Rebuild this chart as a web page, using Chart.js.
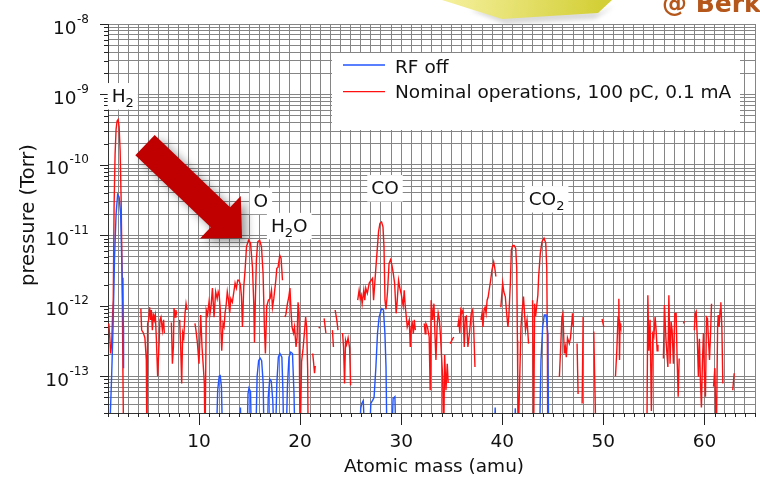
<!DOCTYPE html>
<html>
<head>
<meta charset="utf-8">
<script src="https://cdn.jsdelivr.net/npm/chart.js@4.4.1/dist/chart.umd.min.js"></script>
<style>
  html, body { margin: 0; padding: 0; background: #fff; }
  #wrap { width: 760px; height: 477px; position: relative; }
</style>
</head>
<body>
<div id="wrap"><canvas id="c" width="760" height="477"></canvas></div>
<script>
// Residual gas analyser spectrum: partial pressure against atomic mass
const massRange = [1, 65];
const pressureRange = [3e-14, 1e-8];
const massTickLabels = [10, 20, 30, 40, 50, 60];
const pressureDecades = [1e-8, 1e-9, 1e-10, 1e-11, 1e-12, 1e-13];
const BELOW = 1e-14;   // reading under the bottom of the scale

const seriesNames = ['RF off', 'Nominal operations, 100 pC, 0.1 mA'];
const seriesColors = ['#2255ff', '#ff1010'];

// [amu, Torr]; a null pressure breaks the trace
const rfOff = [
  [1.12,BELOW],[1.36,1.0e-13],[1.5,5.0e-13],[1.65,5.0e-12],[1.8,2.0e-11],[1.95,3.8e-11],[2.1,3.5e-11],
  [2.25,2.0e-11],[2.35,5.0e-12],[2.45,1.26e-12],[2.52,5.0e-13],[2.54,1.3e-13],[2.6,null],
  [11.7,BELOW],[11.85,6.3e-14],[12.0,1.0e-13],[12.1,1.02e-13],[12.22,7.1e-14],[12.35,BELOW],
  [13.95,BELOW],[14.1,3.6e-14],[14.2,BELOW],
  [14.75,BELOW],[14.85,5.6e-14],[14.95,6.8e-14],[15.1,6.0e-14],[15.2,BELOW],
  [15.6,BELOW],[15.75,1.0e-13],[15.9,1.66e-13],[16.05,1.8e-13],[16.2,1.66e-13],[16.35,7.9e-14],[16.45,BELOW],
  [16.75,BELOW],[16.85,5.0e-14],[17.0,9.1e-14],[17.15,8.5e-14],[17.3,4.5e-14],[17.45,BELOW],
  [17.55,BELOW],[17.7,7.9e-14],[17.85,1.86e-13],[18.0,2.1e-13],[18.2,1.86e-13],[18.3,6.3e-14],[18.4,BELOW],
  [18.6,BELOW],[18.75,7.1e-14],[18.9,1.86e-13],[19.08,2.2e-13],[19.25,2.1e-13],[19.4,5.6e-14],[19.5,BELOW],
  [25.85,BELOW],[26.0,3.5e-14],[26.1,4.1e-14],[26.25,4.5e-14],[26.44,BELOW],
  [26.83,BELOW],[27.0,4.1e-14],[27.2,4.6e-14],[27.32,5.0e-14],[27.5,1.35e-13],[27.66,4.1e-13],[27.82,6.9e-13],
  [28.06,9.1e-13],[28.25,8.7e-13],[28.39,4.1e-13],[28.5,1.35e-13],[28.6,BELOW],
  [29.05,BELOW],[29.2,4.8e-14],[29.38,5.1e-14],[29.5,BELOW],
  [39.2,BELOW],[39.3,3.6e-14],[39.4,BELOW],
  [41.2,BELOW],[41.29,3.5e-14],[41.38,BELOW],
  [43.67,BELOW],[43.83,1.7e-13],[44.0,5.0e-13],[44.16,7.4e-13],[44.33,7.4e-13],[44.5,4.1e-13],[44.6,BELOW]
];

const nominal = [
  [1.08,5.6e-13],[1.18,3.5e-13],[1.26,2.1e-13],[1.36,2.8e-13],[1.46,7.8e-13],[1.52,1.2e-12],[1.6,2.5e-11],
  [1.7,1.4e-10],[1.8,3.2e-10],[1.9,4.2e-10],[2.0,4.4e-10],[2.1,3.5e-10],[2.2,1.6e-10],[2.3,3.2e-11],
  [2.4,2.5e-12],[2.48,1.0e-13],[2.55,BELOW],[3.0,null],
  [4.25,9.1e-13],[4.33,4.5e-13],[4.5,4.1e-13],[4.65,3.5e-13],[4.79,1.7e-13],[4.85,BELOW],[4.92,5.6e-13],
  [5.02,6.3e-13],[5.12,9.5e-13],[5.22,6.3e-13],[5.29,8.7e-13],[5.39,4.5e-13],[5.49,7.8e-13],[5.58,6.3e-13],
  [5.68,7.4e-13],[5.78,3.5e-13],[5.91,1.0e-13],[6.04,2.6e-13],[6.14,6.3e-13],[6.24,6.9e-13],[6.38,4.5e-13],
  [6.5,6.3e-13],[6.57,4.1e-13],[6.9,null],
  [7.27,5.8e-13],[7.37,1.5e-13],[7.47,2.6e-13],[7.53,9.3e-13],[7.63,6.9e-13],[7.72,8.7e-13],[7.79,7.4e-13],[7.95,null],
  [8.09,6.3e-13],[8.19,2.6e-13],[8.29,7.9e-14],[8.39,4.1e-13],[8.49,3.5e-13],[8.62,7.8e-13],[8.72,1.07e-12],
  [8.82,8.7e-13],[9.2,null],
  [9.6,5.6e-13],[9.7,4.5e-13],[9.84,3.0e-13],[10.0,1.5e-13],[10.17,7.4e-13],[10.3,2.6e-13],[10.43,1.35e-13],
  [10.53,7.9e-14],[10.6,BELOW],[10.72,8.7e-13],[10.85,7.4e-13],[10.99,1.12e-12],[11.1,7.9e-13],[11.2,1.0e-12],
  [11.33,1.78e-12],[11.49,6.9e-13],[11.65,1.58e-12],[11.8,1.26e-12],[11.9,1.58e-12],[12.0,1.41e-12],
  [12.1,8.9e-13],[12.25,2.3e-13],[12.38,5.6e-13],[12.48,5.0e-13],[12.58,7.9e-13],[12.68,1.0e-12],
  [12.8,1.58e-12],[12.9,1.26e-12],[13.04,7.9e-13],[13.15,1.26e-12],[13.3,1.12e-12],[13.45,1.58e-12],
  [13.57,2.1e-12],[13.7,1.78e-12],[13.83,2.3e-12],[13.95,2.3e-12],[14.1,2.0e-12],[14.2,1.35e-12],
  [14.3,5.0e-13],[14.43,1.86e-12],[14.56,3.2e-12],[14.7,6.9e-12],[14.9,8.5e-12],[15.1,7.8e-12],
  [15.29,3.5e-12],[15.42,1.07e-12],[15.49,3.0e-13],[15.58,1.26e-12],[15.68,4.5e-12],[15.81,8.1e-12],
  [16.0,8.5e-12],[16.18,6.9e-12],[16.34,2.9e-12],[16.47,5.0e-13],[16.57,2.1e-13],[16.7,9.8e-13],
  [16.87,1.2e-12],[17.03,1.26e-12],[17.17,1.66e-12],[17.27,9.5e-13],[17.4,1.26e-12],[17.6,2.3e-12],
  [17.7,3.4e-12],[17.82,3.5e-12],[17.99,5.2e-12],[18.12,4.7e-12],[18.26,2.3e-12],[18.35,null],
  [18.5,6.9e-13],[18.6,7.6e-13],[18.75,1.07e-12],[18.88,1.32e-12],[19.0,1.78e-12],[19.1,8.7e-13],
  [19.2,5.0e-13],[19.35,4.1e-13],[19.45,5.0e-13],[19.6,2.6e-13],[19.7,3.5e-13],[19.8,1.12e-12],
  [19.9,7.8e-13],[20.0,BELOW],[20.15,1.6e-13],[20.3,2.5e-13],[20.45,4.5e-13],[20.55,6.9e-13],
  [20.65,5.0e-13],[20.75,1.26e-13],[20.8,BELOW],[21.0,null],
  [21.25,2.1e-13],[21.33,1.6e-13],[21.43,1.1e-13],[21.5,1.4e-13],[21.7,null],
  [21.85,4.8e-13],[21.95,5.0e-13],[22.1,null],
  [22.38,6.6e-13],[22.55,4.1e-13],[22.8,null],
  [23.2,4.5e-13],[23.3,2.6e-13],[23.4,null],
  [23.47,8.7e-13],[23.63,6.3e-13],[23.75,4.5e-13],[24.0,null],
  [24.2,4.1e-13],[24.3,2.6e-13],[24.4,7.9e-14],[24.5,3.2e-13],[24.6,2.8e-13],[24.75,3.5e-13],[24.9,2.5e-13],
  [25.0,7.4e-14],[25.3,null],
  [25.7,1.2e-12],[25.84,1.66e-12],[25.95,1.26e-12],[26.05,1.41e-12],[26.14,1.07e-12],[26.3,1.66e-12],
  [26.4,1.2e-12],[26.5,1.78e-12],[26.65,1.5e-12],[26.84,2.1e-12],[27.03,2.3e-12],[27.17,2.45e-12],
  [27.27,1.2e-12],[27.38,2.0e-12],[27.5,3.5e-12],[27.63,6.2e-12],[27.76,1.12e-11],[27.9,1.48e-11],
  [28.06,1.55e-11],[28.2,1.32e-11],[28.3,6.9e-12],[28.4,1.2e-12],[28.5,8.9e-13],[28.65,1.58e-12],
  [28.8,4.0e-12],[28.95,4.5e-12],[29.08,3.8e-12],[29.2,3.0e-12],[29.35,2.1e-12],[29.5,7.8e-13],
  [29.6,1.12e-12],[29.74,2.3e-12],[29.87,1.78e-12],[30.0,1.48e-12],[30.1,1.2e-12],[30.2,1.0e-12],
  [30.3,1.66e-12],[30.4,1.0e-12],[30.6,5.0e-13],[30.8,6.3e-13],[30.9,2.6e-13],[31.0,5.0e-13],
  [31.1,5.6e-13],[31.2,4.0e-13],[31.3,6.3e-13],[31.4,4.5e-13],[31.8,null],
  [32.28,5.6e-13],[32.38,4.0e-13],[32.45,5.6e-13],[32.6,5.0e-13],[32.77,3.6e-13],[32.87,6.3e-14],
  [32.97,1.2e-12],[33.1,6.3e-13],[33.24,1.07e-12],[33.34,4.0e-13],[33.44,1.7e-13],[33.55,5.0e-13],
  [33.66,7.9e-13],[33.78,6.3e-13],[33.9,3.5e-13],[34.0,1.86e-13],[34.1,1.0e-13],[34.2,BELOW],
  [34.3,2.0e-13],[34.43,6.3e-14],[34.56,1.5e-13],[34.65,8.0e-14],[34.75,null],
  [34.85,2.9e-13],[35.0,3.2e-13],[35.2,3.6e-13],[35.4,null],
  [35.6,5.0e-13],[35.7,6.3e-13],[35.8,4.1e-13],[35.9,8.7e-13],[36.0,7.9e-13],[36.12,8.7e-13],
  [36.24,2.6e-13],[36.34,6.9e-13],[36.45,7.1e-13],[36.6,2.6e-13],[36.75,4.0e-13],[36.93,7.8e-13],
  [37.07,8.7e-13],[37.17,5.0e-13],[37.3,1.35e-13],[37.5,null],
  [37.9,6.3e-13],[38.0,7.8e-13],[38.09,5.0e-13],[38.2,8.7e-13],[38.3,9.5e-13],[38.4,7.8e-13],
  [38.5,1.2e-12],[38.6,1.32e-12],[38.7,1.66e-12],[38.85,2.3e-12],[38.98,3.2e-12],[39.15,4.2e-12],
  [39.25,3.5e-12],[39.37,2.6e-12],[39.6,null],
  [39.86,9.5e-13],[40.04,2.1e-12],[40.15,1.58e-12],[40.3,1.35e-12],[40.43,7.9e-13],[40.56,5.0e-13],
  [40.65,7.1e-13],[40.8,2.1e-12],[40.9,6.2e-12],[41.04,7.2e-12],[41.18,7.2e-12],[41.33,6.5e-12],
  [41.43,3.5e-12],[41.5,3.2e-13],[41.53,8.7e-14],[41.56,BELOW],[41.85,5.0e-13],[41.95,7.9e-13],
  [42.1,1.35e-12],[42.2,7.9e-13],[42.3,4.5e-13],[42.45,6.3e-13],[42.6,2.9e-13],[42.8,null],
  [43.0,1.2e-12],[43.1,BELOW],[43.2,1.07e-12],[43.3,7.1e-13],[43.43,1.07e-12],[43.52,1.41e-12],
  [43.6,2.6e-12],[43.76,5.5e-12],[43.93,8.1e-12],[44.13,9.1e-12],[44.3,7.8e-12],[44.4,3.5e-12],
  [44.46,4.0e-13],[44.5,BELOW],[45.0,null],
  [45.65,9.8e-14],[45.78,2.6e-13],[45.9,6.9e-13],[46.0,7.8e-13],[46.14,2.1e-13],[46.24,2.6e-13],
  [46.34,1.86e-13],[46.45,3.5e-13],[46.63,2.9e-13],[46.75,3.5e-13],[46.87,5.6e-13],[46.95,7.8e-13],
  [47.03,5.0e-13],[47.2,null],
  [47.4,2.9e-13],[47.5,5.6e-14],[47.7,null],
  [47.9,4.1e-14],[48.0,6.9e-13],[48.3,null],
  [49.05,4.3e-13],[49.28,BELOW],[49.5,null],
  [49.87,6.5e-13],[50.04,5.0e-13],[50.5,null],
  [51.2,1.0e-13],[51.33,2.3e-13],[51.45,6.9e-13],[51.53,1.26e-12],[51.6,1.7e-13],[51.65,5.6e-13],
  [51.72,5.0e-13],[52.0,null],
  [54.3,BELOW],[54.4,1.41e-12],[54.5,2.3e-13],[54.62,6.3e-13],[54.75,3.2e-14],[54.87,4.0e-13],
  [54.99,3.6e-13],[55.12,6.9e-13],[55.22,4.5e-13],[55.32,2.3e-13],[55.4,2.8e-13],[55.7,null],
  [55.94,1.78e-13],[56.04,1.02e-12],[56.2,3.2e-13],[56.38,1.35e-13],[56.48,1.41e-12],[56.6,1.5e-13],
  [56.7,5.9e-13],[56.8,4.5e-13],[56.93,1.5e-13],[57.07,7.8e-13],[57.2,7.8e-13],[57.3,1.7e-13],
  [57.4,5.1e-14],[57.5,1.78e-13],[57.7,null],
  [57.92,5.6e-13],[58.0,6.0e-13],[58.3,null],
  [59.0,4.5e-13],[59.08,7.8e-13],[59.18,8.3e-13],[59.3,3.2e-13],[59.4,9.8e-14],[59.5,3.4e-13],
  [59.6,8.7e-14],[59.7,3.6e-14],[59.8,1.6e-13],[59.9,4.1e-13],[60.0,9.8e-14],[60.1,5.1e-14],
  [60.2,6.9e-13],[60.3,6.6e-13],[60.4,3.2e-13],[60.5,1.7e-13],[60.6,4.0e-13],[60.7,1.07e-12],[60.8,null],
  [60.9,7.1e-14],[61.03,1.3e-13],[61.17,BELOW],[61.3,5.0e-13],[61.36,7.4e-13],[61.45,5.0e-13],
  [61.55,8.7e-13],[61.62,1.12e-12],[61.72,5.0e-13],[61.82,7.9e-14],[62.2,null],
  [62.8,6.3e-14],[62.94,1.1e-13]
];

// Peak annotations: text runs (sub = subscript), anchored at text centre / baseline
const peakLabels = [
  { runs: [['H', 0], ['2', 1]],           amu: 2.46,  p: 7.8e-10 },
  { runs: [['O', 0]],                      amu: 16.12, p: 2.55e-11 },
  { runs: [['H', 0], ['2', 1], ['O', 0]], amu: 18.93, p: 1.12e-11 },
  { runs: [['CO', 0]],                     amu: 28.40, p: 3.85e-11 },
  { runs: [['CO', 0], ['2', 1]],          amu: 44.38, p: 2.69e-11 }
];

// Highlight arrow pointing at the oxygen / water group
const arrowTail = { amu: 4.66, p: 1.91e-10 };
const arrowTip  = { amu: 14.26, p: 9.16e-12 };

const FONT = '"DejaVu Sans", "Liberation Sans", sans-serif';

function toPoints(rows) { return rows.map(([x, y]) => ({ x, y })); }

const massTicks = [];
for (let m = massRange[0]; m <= massRange[1]; m++) massTicks.push(m);
const pressureTicks = [];
for (let e = -14; e <= -8; e++) {
  for (let k = 1; k <= 9; k++) {
    const v = k * Math.pow(10, e);
    if (v >= pressureRange[0] * 0.999 && v <= pressureRange[1] * 1.001) pressureTicks.push(v);
  }
}

function drawRuns(ctx, runs, cx, base, size) {
  const subSize = Math.round(size * 0.7);
  let w = 0;
  const widths = runs.map(([t, sub]) => {
    ctx.font = (sub ? subSize : size) + 'px ' + FONT;
    const mw = ctx.measureText(t).width; w += mw; return mw;
  });
  const x0 = cx - w / 2;
  ctx.fillStyle = '#ffffff';
  ctx.fillRect(x0 - 4, base - size - 0.5, w + 8, size + 8);
  ctx.fillStyle = '#111';
  ctx.textAlign = 'left';
  ctx.textBaseline = 'alphabetic';
  let x = x0;
  runs.forEach(([t, sub], i) => {
    ctx.font = (sub ? subSize : size) + 'px ' + FONT;
    ctx.fillText(t, x, sub ? base + 5 : base);
    x += widths[i];
  });
}

const decor = {
  id: 'decor',
  afterDraw(chart) {
    const ctx = chart.ctx, xs = chart.scales.x, ys = chart.scales.y, a = chart.chartArea;
    ctx.save();

    // tick marks
    ctx.strokeStyle = '#222';
    ctx.lineWidth = 1;
    ctx.beginPath();
    massTicks.forEach(m => {
      const px = Math.round(xs.getPixelForValue(m)) + 0.5;
      const len = massTickLabels.includes(m) ? 12 : 4;
      ctx.moveTo(px, a.bottom); ctx.lineTo(px, a.bottom + len);
    });
    pressureTicks.forEach(v => {
      const py = Math.round(ys.getPixelForValue(v)) + 0.5;
      const major = pressureDecades.some(d => Math.abs(d - v) / d < 1e-6);
      ctx.moveTo(a.left, py); ctx.lineTo(a.left - (major ? 8 : 4), py);
    });
    ctx.stroke();

    // x tick labels
    ctx.fillStyle = '#111';
    ctx.font = '18.5px ' + FONT;
    ctx.textAlign = 'center';
    ctx.textBaseline = 'alphabetic';
    massTickLabels.forEach(m => ctx.fillText(String(m), xs.getPixelForValue(m), 447));

    // y tick labels: 10 with a raised exponent
    pressureDecades.forEach(d => {
      const py = ys.getPixelForValue(d);
      const ex = String(Math.round(Math.log10(d)));
      ctx.font = '12px ' + FONT;
      const ew = ctx.measureText(ex).width;
      ctx.textAlign = 'left';
      ctx.fillText(ex, 89 - ew, py - 1.5);
      ctx.font = '18.5px ' + FONT;
      ctx.textAlign = 'right';
      ctx.fillText('10', 89 - ew - 0.5, py + 9.5);
    });

    // axis titles
    ctx.font = '18.5px ' + FONT;
    ctx.textAlign = 'center';
    ctx.fillText('Atomic mass (amu)', 434, 472);
    ctx.save();
    ctx.translate(33.5, 215);
    ctx.rotate(-Math.PI / 2);
    ctx.font = '19.5px ' + FONT;
    ctx.fillText('pressure (Torr)', 0, 0);
    ctx.restore();

    // legend
    ctx.fillStyle = '#ffffff';
    ctx.fillRect(332, 53, 408, 77);
    const rows = [[65, 72.7], [91.7, 98.3]];
    chart.data.datasets.forEach((ds, i) => {
      ctx.strokeStyle = ds.borderColor;
      ctx.lineWidth = 1.3;
      ctx.beginPath();
      ctx.moveTo(343, rows[i][0]); ctx.lineTo(385, rows[i][0]);
      ctx.stroke();
      ctx.fillStyle = '#111';
      ctx.textAlign = 'left';
      ctx.font = '18.5px ' + FONT;
      ctx.fillText(ds.label, 395, rows[i][1]);
    });

    // arrow
    const T = { x: xs.getPixelForValue(arrowTail.amu), y: ys.getPixelForValue(arrowTail.p) };
    const P = { x: xs.getPixelForValue(arrowTip.amu), y: ys.getPixelForValue(arrowTip.p) };
    const dx = P.x - T.x, dy = P.y - T.y, L = Math.hypot(dx, dy);
    const ux = dx / L, uy = dy / L, nx = -uy, ny = ux;
    const headLen = 30, headHalf = 29.5, shaftHalf = 14;
    const B = { x: P.x - ux * headLen, y: P.y - uy * headLen };
    ctx.save();
    ctx.shadowColor = 'rgba(0,0,0,0.4)';
    ctx.shadowBlur = 10;
    ctx.shadowOffsetX = 5;
    ctx.shadowOffsetY = 4;
    ctx.fillStyle = '#c00000';
    ctx.beginPath();
    ctx.moveTo(T.x + nx * shaftHalf, T.y + ny * shaftHalf);
    ctx.lineTo(B.x + nx * shaftHalf, B.y + ny * shaftHalf);
    ctx.lineTo(B.x + nx * headHalf, B.y + ny * headHalf);
    ctx.lineTo(P.x, P.y);
    ctx.lineTo(B.x - nx * headHalf, B.y - ny * headHalf);
    ctx.lineTo(B.x - nx * shaftHalf, B.y - ny * shaftHalf);
    ctx.lineTo(T.x - nx * shaftHalf, T.y - ny * shaftHalf);
    ctx.closePath();
    ctx.fill();
    ctx.restore();

    // peak labels
    peakLabels.forEach(lb => {
      drawRuns(ctx, lb.runs, xs.getPixelForValue(lb.amu), ys.getPixelForValue(lb.p), 18.5);
    });

    // banner corner at the top right
    ctx.save();
    ctx.fillStyle = 'rgba(150,150,150,0.35)';
    ctx.filter = 'blur(2px)';
    ctx.beginPath();
    ctx.moveTo(470, 10); ctx.lineTo(505, 24); ctx.lineTo(595, 19); ctx.lineTo(614, 6); ctx.lineTo(600, 12); ctx.closePath();
    ctx.fill();
    ctx.restore();
    const g = ctx.createLinearGradient(450, 0, 600, 20);
    g.addColorStop(0, '#f4ef9a');
    g.addColorStop(1, '#d3cf36');
    ctx.fillStyle = g;
    ctx.beginPath();
    ctx.moveTo(442, 0); ctx.lineTo(612, 0); ctx.lineTo(598, 13); ctx.lineTo(502, 19); ctx.closePath();
    ctx.fill();
    ctx.fillStyle = '#b5561a';
    ctx.font = 'bold 25px ' + FONT;
    ctx.textAlign = 'left';
    ctx.fillText('@ Berk', 662, 12);

    ctx.restore();
  }
};

new Chart(document.getElementById('c'), {
  type: 'line',
  data: {
    datasets: [
      { label: seriesNames[0], data: toPoints(rfOff), borderColor: seriesColors[0] },
      { label: seriesNames[1], data: toPoints(nominal), borderColor: seriesColors[1] }
    ]
  },
  options: {
    responsive: false,
    animation: false,
    devicePixelRatio: 1,
    layout: { padding: { left: 0, right: 5, top: 24, bottom: 0 } },
    plugins: { legend: { display: false }, tooltip: { enabled: false } },
    elements: {
      point: { radius: 0 },
      line: { borderWidth: 1.4, tension: 0, fill: false }
    },
    datasets: { line: { clip: 0, spanGaps: false } },
    scales: {
      x: {
        type: 'linear', min: massRange[0], max: massRange[1],
        afterBuildTicks: s => { s.ticks = massTicks.map(v => ({ value: v })); },
        afterFit: s => { s.height = 64; },
        ticks: { display: false },
        grid: { color: '#858585', lineWidth: 1, drawTicks: false },
        border: { display: true, color: '#333', width: 1 }
      },
      y: {
        type: 'logarithmic', min: pressureRange[0], max: pressureRange[1],
        afterBuildTicks: s => { s.ticks = pressureTicks.map(v => ({ value: v })); },
        afterFit: s => { s.width = 108; },
        ticks: { display: false },
        grid: { color: '#858585', lineWidth: 1, drawTicks: false },
        border: { display: true, color: '#333', width: 1 }
      }
    }
  },
  plugins: [decor]
});
</script>
</body>
</html>
